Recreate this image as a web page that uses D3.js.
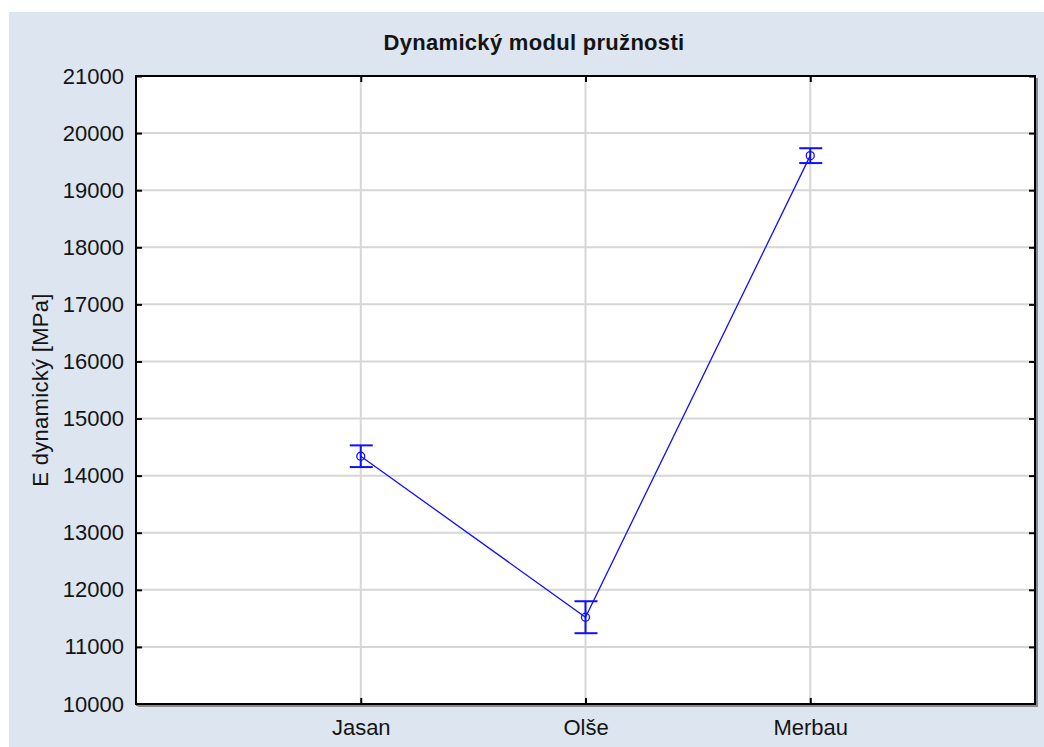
<!DOCTYPE html>
<html>
<head>
<meta charset="utf-8">
<script src="https://cdn.jsdelivr.net/npm/d3@7"></script>
<style>
  html, body { margin: 0; padding: 0; background: #ffffff; }
  svg { display: block; }
  text { font-family: "Liberation Sans", Arial, sans-serif; fill: #141414; }
</style>
</head>
<body>
<svg id="chart" width="1044" height="747"></svg>
<script>
const categories = ["Jasan", "Olše", "Merbau"];
const means = [14340, 11520, 19605];
const errors = [190, 280, 130];
const yTicks = [10000, 11000, 12000, 13000, 14000, 15000, 16000, 17000, 18000, 19000, 20000, 21000];
const titleText = "Dynamický modul pružnosti";
const yLabelText = "E dynamický [MPa]";

const W = 1044, H = 747;
const plot = { left: 136, top: 76, right: 1035, bottom: 704 };

const svg = d3.select("#chart");

// panel background
svg.append("rect").attr("x", 9).attr("y", 12).attr("width", W - 9).attr("height", H - 12)
  .attr("fill", "#dce5f0");

// plot area
svg.append("rect").attr("x", plot.left).attr("y", plot.top)
  .attr("width", plot.right - plot.left).attr("height", plot.bottom - plot.top)
  .attr("fill", "#ffffff");

const x = d3.scalePoint().domain(categories).range([plot.left, plot.right]).padding(1);
const y = d3.scaleLinear().domain([10000, 21000]).range([plot.bottom, plot.top]);

// grid
const grid = svg.append("g");
grid.selectAll("line.h").data(yTicks.filter(t => t > 10000 && t < 21000)).join("line")
  .attr("x1", plot.left).attr("x2", plot.right)
  .attr("y1", d => y(d)).attr("y2", d => y(d))
  .attr("stroke", "#d6d6d6").attr("stroke-width", 2);
grid.selectAll("line.v").data(categories).join("line")
  .attr("x1", d => x(d)).attr("x2", d => x(d))
  .attr("y1", plot.top).attr("y2", plot.bottom)
  .attr("stroke", "#d6d6d6").attr("stroke-width", 2);

// axes
const axL = svg.append("g").attr("transform", `translate(${plot.left},0)`)
  .call(d3.axisLeft(y).tickValues(yTicks).tickFormat(d3.format("d")).tickSize(-6).tickPadding(12));
const axR = svg.append("g").attr("transform", `translate(${plot.right},0)`)
  .call(d3.axisRight(y).tickValues(yTicks).tickFormat("").tickSize(-6));
const axT = svg.append("g").attr("transform", `translate(0,${plot.top})`)
  .call(d3.axisTop(x).tickFormat("").tickSize(-6));
const axB = svg.append("g").attr("transform", `translate(0,${plot.bottom})`)
  .call(d3.axisBottom(x).tickSize(-6).tickPadding(15));

[axL, axR, axT, axB].forEach(a => {
  a.select(".domain").remove();
  a.selectAll(".tick line").attr("stroke", "#000").attr("stroke-width", 2);
  a.selectAll("text").attr("font-size", 22).attr("fill", "#141414")
    .style("font-family", "'Liberation Sans', Arial, sans-serif");
});
axB.selectAll("text").attr("dy", "0.71em");

// frame with shadow
svg.append("line").attr("x1", plot.right + 2).attr("x2", plot.right + 2)
  .attr("y1", plot.top + 2).attr("y2", plot.bottom + 2).attr("stroke", "#8a8a8a").attr("stroke-width", 2);
svg.append("line").attr("x1", plot.left + 2).attr("x2", plot.right + 3)
  .attr("y1", plot.bottom + 2).attr("y2", plot.bottom + 2).attr("stroke", "#8a8a8a").attr("stroke-width", 2);
svg.append("rect").attr("x", plot.left).attr("y", plot.top)
  .attr("width", plot.right - plot.left).attr("height", plot.bottom - plot.top)
  .attr("fill", "none").attr("stroke", "#000").attr("stroke-width", 2);

// data
const data = categories.map((c, i) => ({ c, m: means[i], e: errors[i] }));
const blue = "#1010ff";

svg.append("path").datum(data)
  .attr("d", d3.line().x(d => x(d.c)).y(d => y(d.m)))
  .attr("fill", "none").attr("stroke", blue).attr("stroke-width", 1.3);

const eb = svg.append("g").selectAll("g").data(data).join("g");
eb.append("line").attr("x1", d => x(d.c)).attr("x2", d => x(d.c))
  .attr("y1", d => y(d.m + d.e)).attr("y2", d => y(d.m - d.e))
  .attr("stroke", blue).attr("stroke-width", 2);
eb.append("line").attr("x1", d => x(d.c) - 11).attr("x2", d => x(d.c) + 12)
  .attr("y1", d => y(d.m + d.e)).attr("y2", d => y(d.m + d.e))
  .attr("stroke", blue).attr("stroke-width", 2);
eb.append("line").attr("x1", d => x(d.c) - 11).attr("x2", d => x(d.c) + 12)
  .attr("y1", d => y(d.m - d.e)).attr("y2", d => y(d.m - d.e))
  .attr("stroke", blue).attr("stroke-width", 2);
eb.append("circle").attr("cx", d => x(d.c)).attr("cy", d => y(d.m)).attr("r", 4)
  .attr("fill", "none").attr("stroke", blue).attr("stroke-width", 1.3);

// title
svg.append("text").attr("x", 534).attr("y", 50).attr("text-anchor", "middle")
  .attr("font-size", 22).attr("font-weight", "bold").attr("letter-spacing", 0.3).text(titleText);

// y label
svg.append("text").attr("transform", `translate(48,${(plot.top + plot.bottom) / 2}) rotate(-90)`)
  .attr("text-anchor", "middle").attr("font-size", 22).attr("letter-spacing", 0.3).text(yLabelText);
</script>
</body>
</html>
